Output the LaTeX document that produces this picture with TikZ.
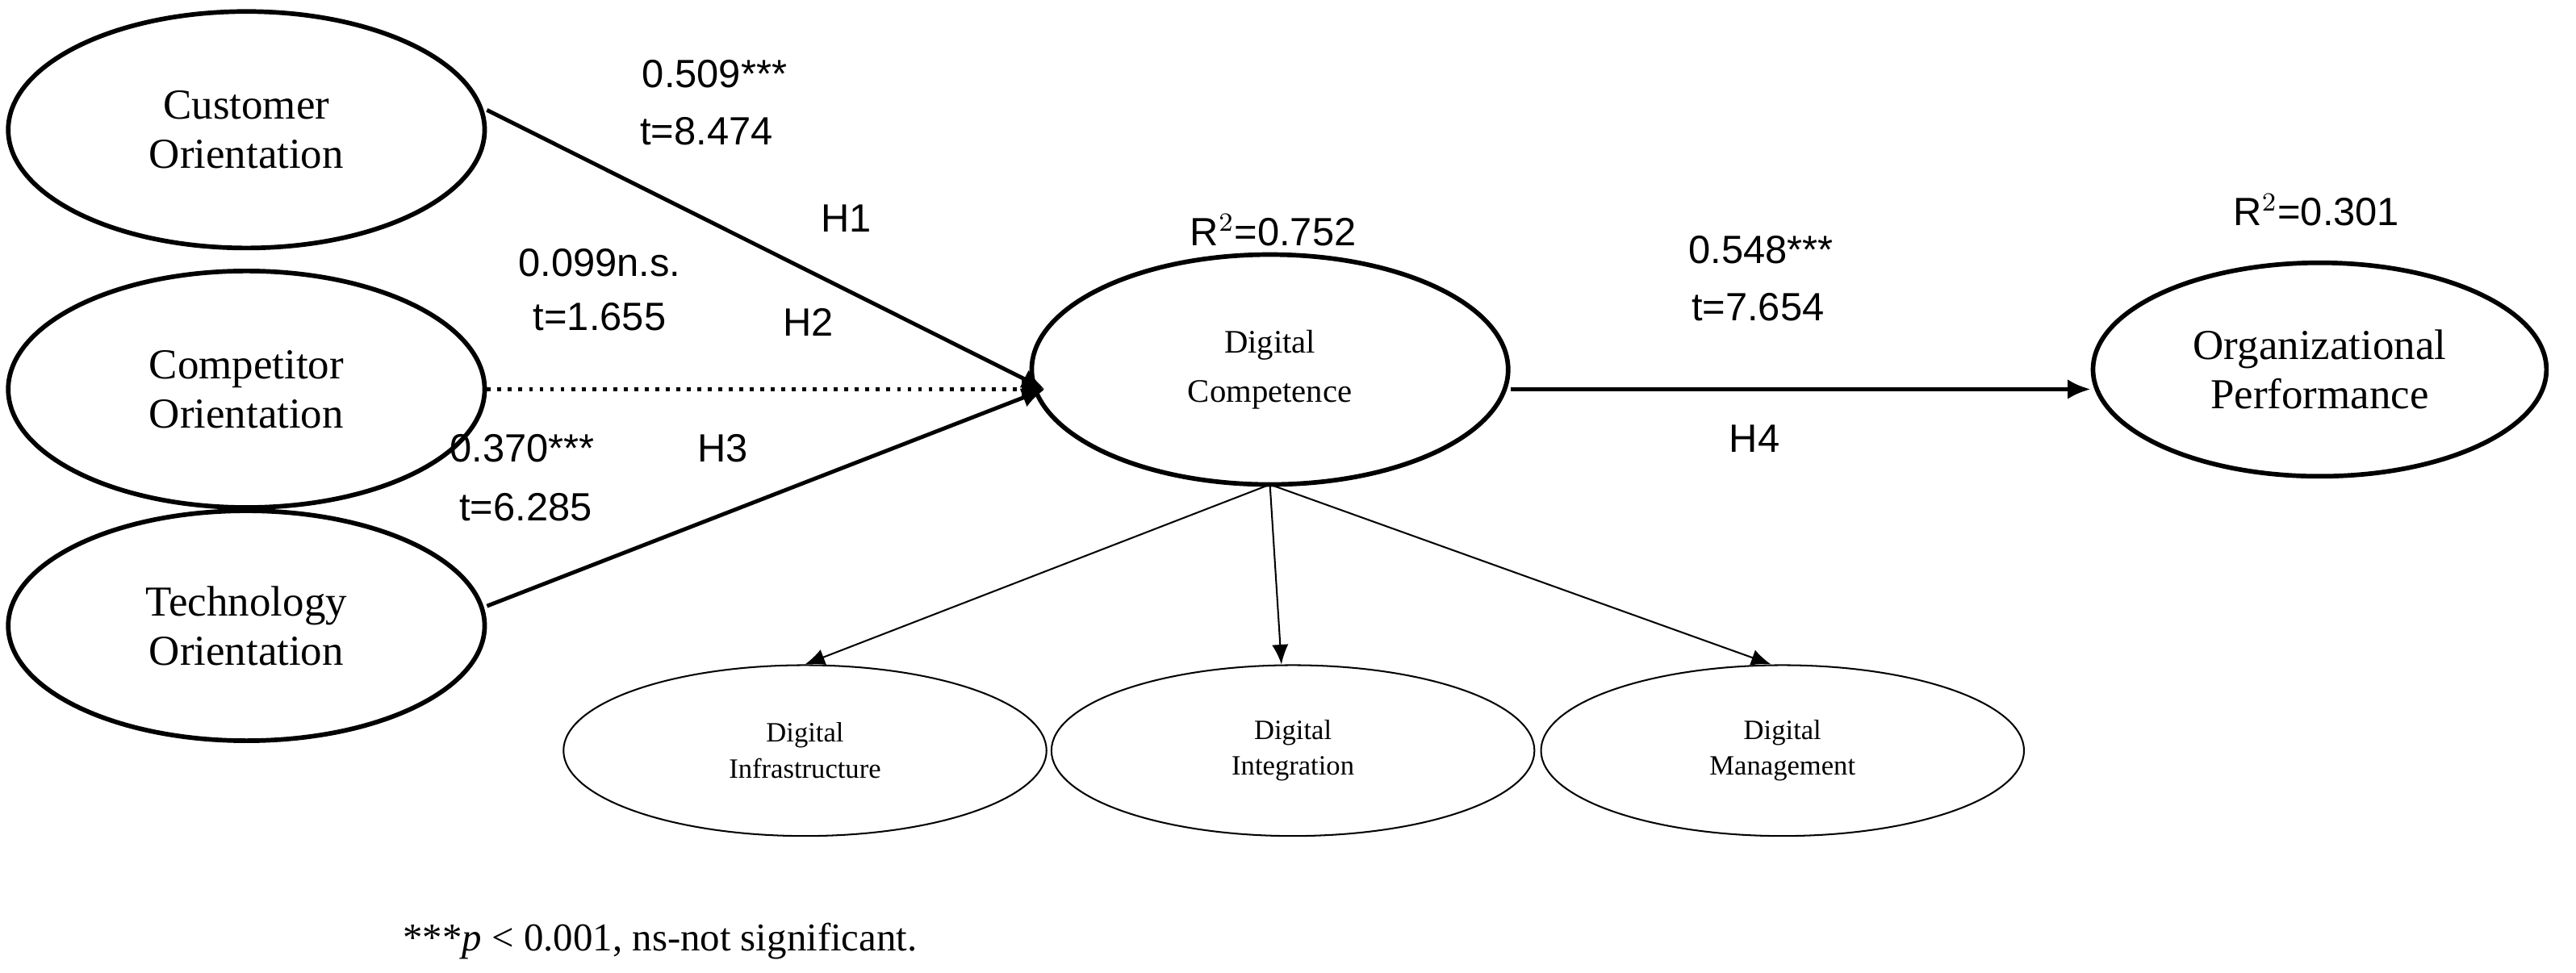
\documentclass[tikz,border=0pt]{standalone}
\usepackage{fontspec}
\setmainfont{Liberation Serif}
\newfontfamily\lab{Liberation Sans}
\usetikzlibrary{arrows.meta,shapes.geometric}
\begin{document}
\begin{tikzpicture}[x=0.5pt,y=-0.5pt,
  big/.style={ellipse,draw,line width=1.4pt,minimum width=145pt,minimum height=72pt,align=center,font=\fontsize{13}{15}\selectfont,inner sep=0pt},
  small/.style={ellipse,draw,line width=0.5pt,minimum width=147pt,minimum height=52pt,align=center,font=\fontsize{8.5}{11}\selectfont,inner sep=0pt},
  lbl/.style={font=\lab\fontsize{12}{14}\selectfont,inner sep=0pt},
  arr/.style={-{Latex[length=7pt,width=6pt]},line width=1.2pt},
  thin/.style={-{Latex[length=6pt,width=5pt]},line width=0.5pt}]
\useasboundingbox (0,0) rectangle (1568,592);
\node[big] (co) at (150,79) {Customer\\Orientation};
\node[big] (cp) at (150,237) {Competitor\\Orientation};
\node[big,minimum height=70pt] (to) at (150,381) {Technology\\Orientation};
\node[big,minimum height=70pt] (dc) at (773,225) {\fontsize{10}{12}\selectfont Digital\\\fontsize{10}{12}\selectfont Competence};
\node[big,minimum width=138pt,minimum height=65pt] (op) at (1412,225) {Organizational\\Performance};
\node[small] (di) at (490,457) {Digital\\Infrastructure};
\node[small] (dg) at (787,457) {Digital\\Integration};
\node[small] (dm) at (1085,457) {Digital\\Management};
\coordinate (tip) at (636,237);
\draw[arr] (co.east) ++(0,-12) -- (tip);
\draw[arr,dotted] (cp.east) -- (tip);
\draw[arr] (to.east) ++(0,-12) -- (tip);
\draw[arr] (dc.east) ++(0,12) -- (op.west |- 0,237);
\coordinate (src) at (773,295);
\draw[thin] (src) -- (di.north);
\draw[thin] (src) -- (dg.north -| 780,0);
\draw[thin] (src) -- (dm.north -| 1078,0);
\node[lbl] at (435,45) {0.509***};
\node[lbl] at (430,80) {t=8.474};
\node[lbl] at (515,133) {H1};
\node[lbl] at (365,160) {0.099n.s.};
\node[lbl] at (365,193) {t=1.655};
\node[lbl] at (492,196) {H2};
\node[lbl] at (318,273) {0.370***};
\node[lbl] at (440,273) {H3};
\node[lbl] at (320,309) {t=6.285};
\node[lbl] at (775,140) {R$^2$=0.752};
\node[lbl] at (1072,152) {0.548***};
\node[lbl] at (1070,187) {t=7.654};
\node[lbl] at (1068,267) {H4};
\node[lbl] at (1410,128) {R$^2$=0.301};
\node[font=\fontsize{12}{14}\selectfont,anchor=west,inner sep=0pt] at (245,573) {***\textit{p} < 0.001, ns-not significant.};
\end{tikzpicture}
\end{document}
